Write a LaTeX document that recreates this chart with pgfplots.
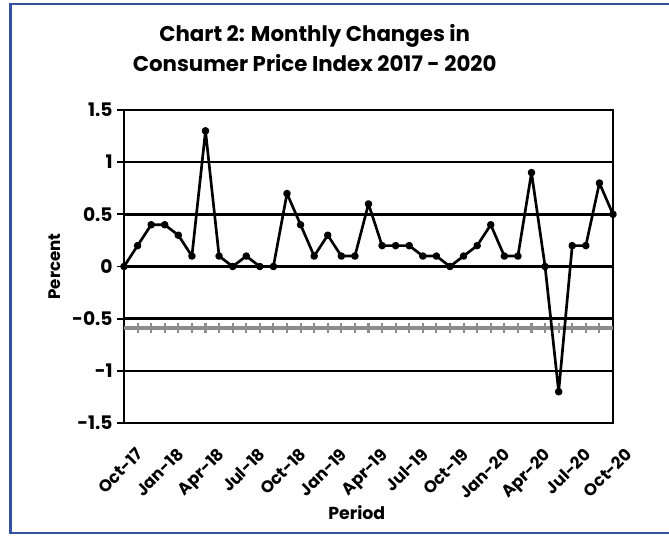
\documentclass[border=0pt]{standalone}
\usepackage{pgfplots}
\pgfplotsset{compat=1.18}
\usepackage{fontspec}
\setmainfont{Poppins}
\definecolor{frameblue}{RGB}{52,82,160}
\definecolor{refgray}{RGB}{140,140,140}
\begin{document}
\begin{tikzpicture}
\useasboundingbox (0pt,0pt) rectangle (501.75pt,402.75pt);
\begin{scope}
\clip (0pt,0pt) rectangle (501.75pt,402.75pt);
\draw[frameblue, line width=1.6pt] (7.9pt,3pt) rectangle (520pt,399.75pt);
\end{scope}
\begin{axis}[
  at={(93pt,85.5pt)}, anchor=south west,
  scale only axis,
  width=366.75pt, height=234.75pt,
  xmin=0, xmax=36, ymin=-1.5, ymax=1.5,
  clip=false,
  axis line style={black, line width=1.8pt},
  ytick={-1.5,-1,-0.5,0,0.5,1,1.5},
  yticklabels={-1.5,-1,-0.5,0,0.5,1,1.5},
  xtick={0,3,...,36},
  xticklabels={Oct-17,Jan-18,Apr-18,Jul-18,Oct-18,Jan-19,Apr-19,Jul-19,Oct-19,Jan-20,Apr-20,Jul-20,Oct-20},
  ymajorgrids,
  grid style={black, line width=1.8pt},
  major x tick style={draw=none},
  major y tick style={black, line width=1.4pt},
  ytick pos=left,
  tick align=outside,
  major tick length=5pt,
  x tick label style={rotate=45, anchor=north east, font=\bfseries\fontsize{12.5}{15}\selectfont, inner sep=1pt, xshift=-2pt, yshift=-14pt},
  y tick label style={font=\bfseries\fontsize{14}{16}\selectfont},
  xlabel={Period},
  ylabel={Percent},
  xlabel style={font=\bfseries\fontsize{13}{15}\selectfont, at={(axis description cs:0.476,-0.287)}, anchor=center},
  ylabel style={font=\bfseries\fontsize{12.5}{14}\selectfont, at={(axis description cs:-0.141,0.5)}, anchor=center, rotate=0},
  title={Chart 2: Monthly Changes in\\Consumer Price Index 2017 - 2020},
  title style={font=\bfseries\fontsize{16}{22}\selectfont, align=center, at={(axis description cs:0.39,1.172)}, anchor=center},
]
\addplot[refgray, line width=2.6pt, mark=|, mark size=4pt, mark indices={2,...,36}, mark options={line width=1.6pt}]
coordinates {(0,-0.59)(1,-0.59)(2,-0.59)(3,-0.59)(4,-0.59)(5,-0.59)(6,-0.59)(7,-0.59)(8,-0.59)(9,-0.59)(10,-0.59)(11,-0.59)(12,-0.59)(13,-0.59)(14,-0.59)(15,-0.59)(16,-0.59)(17,-0.59)(18,-0.59)(19,-0.59)(20,-0.59)(21,-0.59)(22,-0.59)(23,-0.59)(24,-0.59)(25,-0.59)(26,-0.59)(27,-0.59)(28,-0.59)(29,-0.59)(30,-0.59)(31,-0.59)(32,-0.59)(33,-0.59)(34,-0.59)(35,-0.59)(36,-0.59)};
\addplot[black, line width=2pt, line join=round, mark=*, mark size=1.8pt]
coordinates {(0,0)(1,0.2)(2,0.4)(3,0.4)(4,0.3)(5,0.1)(6,1.3)(7,0.1)(8,0)(9,0.1)(10,0)(11,0)(12,0.7)(13,0.4)(14,0.1)(15,0.3)(16,0.1)(17,0.1)(18,0.6)(19,0.2)(20,0.2)(21,0.2)(22,0.1)(23,0.1)(24,0)(25,0.1)(26,0.2)(27,0.4)(28,0.1)(29,0.1)(30,0.9)(31,0)(32,-1.2)(33,0.2)(34,0.2)(35,0.8)(36,0.5)};
\end{axis}
\end{tikzpicture}
\end{document}
